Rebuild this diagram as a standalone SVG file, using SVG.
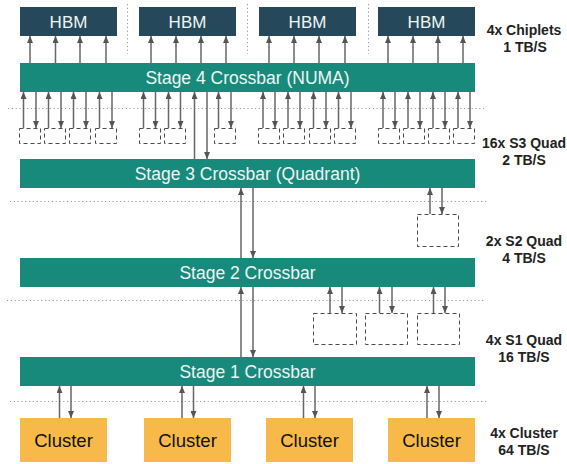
<svg xmlns="http://www.w3.org/2000/svg" width="567" height="464" viewBox="0 0 567 464">
<defs>
<marker id="ah" viewBox="0 0 7 6" refX="7" refY="3" markerWidth="7" markerHeight="6" markerUnits="userSpaceOnUse" orient="auto">
<path d="M0,0 L7,3 L0,6 z" fill="#555"/>
</marker>
<style>
.hbm{fill:#25495A}
.bar{fill:#178A7B}
.clu{fill:#F6B94A}
.quad{fill:none;stroke:#4a4a4a;stroke-width:1;stroke-dasharray:4 3}
.dot{stroke:#999;stroke-width:1;stroke-dasharray:1.2 2.6;fill:none}
.ar{stroke:#666;stroke-width:1.5;fill:none;marker-end:url(#ah)}
.t1{font-family:"Liberation Sans",Arial,sans-serif;font-size:17px;fill:#EEF6F4;text-anchor:middle}
.t2{font-family:"Liberation Sans",Arial,sans-serif;font-size:17.5px;fill:#EEF6F4;text-anchor:middle}
.t3{font-family:"Liberation Sans",Arial,sans-serif;font-size:18.5px;fill:#111;text-anchor:middle}
.lb{font-family:"Liberation Sans",Arial,sans-serif;font-size:14px;font-weight:bold;fill:#222;text-anchor:middle}
</style>
</defs>

<g id="separators">
<line class="dot" x1="127.5" y1="4" x2="127.5" y2="54"/>
<line class="dot" x1="247.5" y1="4" x2="247.5" y2="54"/>
<line class="dot" x1="368.5" y1="4" x2="368.5" y2="54"/>
<line class="dot" x1="8" y1="108.5" x2="484" y2="108.5"/>
<line class="dot" x1="10" y1="201.5" x2="486" y2="201.5"/>
<line class="dot" x1="7" y1="300.5" x2="484" y2="300.5"/>
<line class="dot" x1="10" y1="401.5" x2="486" y2="401.5"/>
</g>

<g id="hbm1"><rect class="hbm" x="20" y="7" width="97" height="29"/><text class="t1" x="68.5" y="28">HBM</text></g>
<g id="hbm2"><rect class="hbm" x="139" y="7" width="97" height="29"/><text class="t1" x="187.5" y="28">HBM</text></g>
<g id="hbm3"><rect class="hbm" x="259" y="7" width="97" height="29"/><text class="t1" x="307.5" y="28">HBM</text></g>
<g id="hbm4"><rect class="hbm" x="378" y="7" width="97" height="29"/><text class="t1" x="426.5" y="28">HBM</text></g>

<g id="stage4"><rect class="bar" x="20" y="63" width="455" height="29"/><text class="t2" x="247.5" y="83.5">Stage 4 Crossbar (NUMA)</text></g>
<g id="stage3"><rect class="bar" x="20" y="159" width="455" height="29"/><text class="t2" x="247.5" y="179.5">Stage 3 Crossbar (Quadrant)</text></g>
<g id="stage2"><rect class="bar" x="20" y="258" width="455" height="29"/><text class="t2" x="247.5" y="278.5">Stage 2 Crossbar</text></g>
<g id="stage1"><rect class="bar" x="20" y="357" width="455" height="29"/><text class="t2" x="247.5" y="377.5">Stage 1 Crossbar</text></g>

<g id="s3quads">
<rect class="quad" x="19.5" y="128.5" width="21" height="15"/>
<rect class="quad" x="44.5" y="128.5" width="21" height="15"/>
<rect class="quad" x="69.5" y="128.5" width="21" height="15"/>
<rect class="quad" x="95.5" y="128.5" width="21" height="15"/>
<rect class="quad" x="139.5" y="128.5" width="21" height="15"/>
<rect class="quad" x="164.5" y="128.5" width="21" height="15"/>
<rect class="quad" x="214.5" y="128.5" width="21" height="15"/>
<rect class="quad" x="258.5" y="128.5" width="21" height="15"/>
<rect class="quad" x="283.5" y="128.5" width="21" height="15"/>
<rect class="quad" x="309.5" y="128.5" width="21" height="15"/>
<rect class="quad" x="334.5" y="128.5" width="21" height="15"/>
<rect class="quad" x="378.5" y="128.5" width="21" height="15"/>
<rect class="quad" x="403.5" y="128.5" width="21" height="15"/>
<rect class="quad" x="428.5" y="128.5" width="21" height="15"/>
<rect class="quad" x="453.5" y="128.5" width="21" height="15"/>
</g>

<g id="s2quad"><rect class="quad" x="417.5" y="214.5" width="41" height="32"/></g>

<g id="s1quads">
<rect class="quad" x="313.5" y="313.5" width="43" height="31"/>
<rect class="quad" x="365.5" y="313.5" width="42" height="31"/>
<rect class="quad" x="417.5" y="313.5" width="42" height="31"/>
</g>

<g id="cluster1"><rect class="clu" x="20" y="418" width="87" height="44"/><text class="t3" x="63.5" y="447">Cluster</text></g>
<g id="cluster2"><rect class="clu" x="144" y="418" width="87" height="44"/><text class="t3" x="187.5" y="447">Cluster</text></g>
<g id="cluster3"><rect class="clu" x="266" y="418" width="87" height="44"/><text class="t3" x="309.5" y="447">Cluster</text></g>
<g id="cluster4"><rect class="clu" x="388" y="418" width="87" height="44"/><text class="t3" x="431.5" y="447">Cluster</text></g>

<g id="connectors">
<line class="ar" x1="30" y1="63" x2="30" y2="36"/>
<line class="ar" x1="55.5" y1="63" x2="55.5" y2="36"/>
<line class="ar" x1="80" y1="63" x2="80" y2="36"/>
<line class="ar" x1="106" y1="63" x2="106" y2="36"/>
<line class="ar" x1="151" y1="63" x2="151" y2="36"/>
<line class="ar" x1="176" y1="63" x2="176" y2="36"/>
<line class="ar" x1="201" y1="63" x2="201" y2="36"/>
<line class="ar" x1="226" y1="63" x2="226" y2="36"/>
<line class="ar" x1="269" y1="63" x2="269" y2="36"/>
<line class="ar" x1="294" y1="63" x2="294" y2="36"/>
<line class="ar" x1="319" y1="63" x2="319" y2="36"/>
<line class="ar" x1="345" y1="63" x2="345" y2="36"/>
<line class="ar" x1="388" y1="63" x2="388" y2="36"/>
<line class="ar" x1="413" y1="63" x2="413" y2="36"/>
<line class="ar" x1="438" y1="63" x2="438" y2="36"/>
<line class="ar" x1="463" y1="63" x2="463" y2="36"/>
<line class="ar" x1="23.5" y1="128" x2="23.5" y2="92"/><line class="ar" x1="36" y1="92" x2="36" y2="128"/>
<line class="ar" x1="48.5" y1="128" x2="48.5" y2="92"/><line class="ar" x1="61" y1="92" x2="61" y2="128"/>
<line class="ar" x1="73.5" y1="128" x2="73.5" y2="92"/><line class="ar" x1="86" y1="92" x2="86" y2="128"/>
<line class="ar" x1="99.5" y1="128" x2="99.5" y2="92"/><line class="ar" x1="112" y1="92" x2="112" y2="128"/>
<line class="ar" x1="143.5" y1="128" x2="143.5" y2="92"/><line class="ar" x1="155.5" y1="92" x2="155.5" y2="128"/>
<line class="ar" x1="168.5" y1="128" x2="168.5" y2="92"/><line class="ar" x1="180.5" y1="92" x2="180.5" y2="128"/>
<line class="ar" x1="218.5" y1="128" x2="218.5" y2="92"/><line class="ar" x1="231" y1="92" x2="231" y2="128"/>
<line class="ar" x1="263" y1="128" x2="263" y2="92"/><line class="ar" x1="275" y1="92" x2="275" y2="128"/>
<line class="ar" x1="288" y1="128" x2="288" y2="92"/><line class="ar" x1="300" y1="92" x2="300" y2="128"/>
<line class="ar" x1="313.5" y1="128" x2="313.5" y2="92"/><line class="ar" x1="326" y1="92" x2="326" y2="128"/>
<line class="ar" x1="338.5" y1="128" x2="338.5" y2="92"/><line class="ar" x1="351" y1="92" x2="351" y2="128"/>
<line class="ar" x1="383" y1="128" x2="383" y2="92"/><line class="ar" x1="395" y1="92" x2="395" y2="128"/>
<line class="ar" x1="408" y1="128" x2="408" y2="92"/><line class="ar" x1="420" y1="92" x2="420" y2="128"/>
<line class="ar" x1="433" y1="128" x2="433" y2="92"/><line class="ar" x1="445" y1="92" x2="445" y2="128"/>
<line class="ar" x1="458" y1="128" x2="458" y2="92"/><line class="ar" x1="470" y1="92" x2="470" y2="128"/>
<line class="ar" x1="194.5" y1="159" x2="194.5" y2="92"/>
<line class="ar" x1="207" y1="92" x2="207" y2="159"/>
<line class="ar" x1="430" y1="214" x2="430" y2="188"/>
<line class="ar" x1="442" y1="188" x2="442" y2="214"/>
<line class="ar" x1="241" y1="258" x2="241" y2="188"/>
<line class="ar" x1="253" y1="188" x2="253" y2="258"/>
<line class="ar" x1="330" y1="313" x2="330" y2="287"/><line class="ar" x1="342" y1="287" x2="342" y2="313"/>
<line class="ar" x1="379.5" y1="313" x2="379.5" y2="287"/><line class="ar" x1="392" y1="287" x2="392" y2="313"/>
<line class="ar" x1="433.5" y1="313" x2="433.5" y2="287"/><line class="ar" x1="445" y1="287" x2="445" y2="313"/>
<line class="ar" x1="241" y1="357" x2="241" y2="287"/>
<line class="ar" x1="253" y1="287" x2="253" y2="357"/>
<line class="ar" x1="59.5" y1="418" x2="59.5" y2="386"/><line class="ar" x1="71" y1="386" x2="71" y2="418"/>
<line class="ar" x1="182" y1="418" x2="182" y2="386"/><line class="ar" x1="193.5" y1="386" x2="193.5" y2="418"/>
<line class="ar" x1="303.5" y1="418" x2="303.5" y2="386"/><line class="ar" x1="315" y1="386" x2="315" y2="418"/>
<line class="ar" x1="427" y1="418" x2="427" y2="386"/><line class="ar" x1="439" y1="386" x2="439" y2="418"/>
</g>

<g id="labels">
<text class="lb" x="524" y="35">4x Chiplets</text>
<text class="lb" x="525" y="52">1 TB/S</text>
<text class="lb" x="524" y="148">16x S3 Quad</text>
<text class="lb" x="524" y="165">2 TB/S</text>
<text class="lb" x="524" y="246">2x S2 Quad</text>
<text class="lb" x="524" y="263">4 TB/S</text>
<text class="lb" x="524" y="345">4x S1 Quad</text>
<text class="lb" x="524" y="362">16 TB/S</text>
<text class="lb" x="524" y="438">4x Cluster</text>
<text class="lb" x="524" y="455">64 TB/S</text>
</g>
</svg>
